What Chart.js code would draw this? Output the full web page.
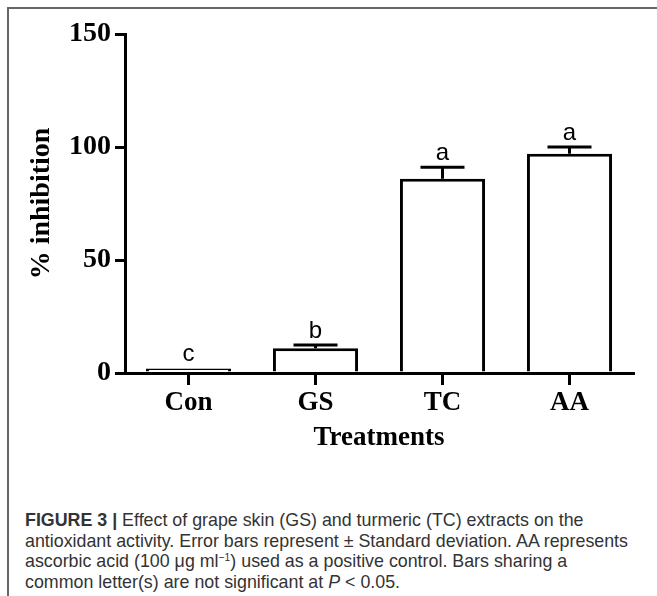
<!DOCTYPE html>
<html>
<head>
<meta charset="utf-8">
<script src="https://cdn.jsdelivr.net/npm/chart.js@4/dist/chart.umd.min.js"></script>
<style>
  html, body { margin: 0; padding: 0; background: #fff; }
  body { width: 657px; height: 596px; position: relative; overflow: hidden; }
  #frame { position: absolute; left: 7px; top: 7px; width: 700px; height: 700px;
           border-left: 2px solid #666; border-top: 2px solid #666; }
  #chart { position: absolute; left: 0; top: 0; }
  #caption { position: absolute; left: 25px; top: 510px; color: #333;
             font-family: "Liberation Sans", Arial, sans-serif;
             font-size: 19px; line-height: 20.5px; white-space: nowrap;
             transform-origin: 0 0; }
  #caption div { display: block; }
  #caption span.ln { display: inline-block; }
  #caption sup { font-size: 11px; line-height: 0; vertical-align: 6px; }
</style>
</head>
<body>
<div id="frame"></div>
<canvas id="chart" width="657" height="470"></canvas>
<div id="caption">
  <div><span class="ln"><b>FIGURE 3 |</b> Effect of grape skin (GS) and turmeric (TC) extracts on the</span></div>
  <div><span class="ln" id="longest">antioxidant activity. Error bars represent ± Standard deviation. AA represents</span></div>
  <div><span class="ln">ascorbic acid (100 μg ml<sup>−1</sup>) used as a positive control. Bars sharing a</span></div>
  <div><span class="ln">common letter(s) are not significant at <i>P</i> &lt; 0.05.</span></div>
</div>
<script>
  // data
  const treatments = ["Con", "GS", "TC", "AA"];
  const inhibition = [2, 11, 86, 97];
  const stdDev = [0, 1.4, 5, 3];
  const letters = ["c", "b", "a", "a"];
  const yTicks = [0, 50, 100, 150];

  const serifBold = { family: "'Liberation Serif', 'Times New Roman', serif", weight: "bold" };

  // caption font is condensed in the original: squeeze the block to the same width
  const cap = document.getElementById("caption");
  const w = document.getElementById("longest").getBoundingClientRect().width;
  cap.style.transform = "scaleX(" + (603 / w) + ")";

  // error bars (upper half only) + significance letters
  const errorBars = {
    id: "errorBars",
    afterDatasetsDraw(chart) {
      const ctx = chart.ctx;
      const y = chart.scales.y;
      const meta = chart.getDatasetMeta(0);
      ctx.save();
      ctx.strokeStyle = "#000";
      ctx.lineWidth = 3;
      meta.data.forEach((bar, i) => {
        const base = y.getPixelForValue(inhibition[i]);
        const top = y.getPixelForValue(inhibition[i] + stdDev[i]);
        if (stdDev[i] > 0) {
          ctx.beginPath();
          ctx.moveTo(bar.x, base);
          ctx.lineTo(bar.x, top);
          ctx.moveTo(bar.x - 22, top);
          ctx.lineTo(bar.x + 22, top);
          ctx.stroke();
        }

        ctx.fillStyle = "#000";
        ctx.font = "24px 'Liberation Sans', Arial, sans-serif";
        ctx.textAlign = "center";
        ctx.textBaseline = "alphabetic";
        ctx.fillText(letters[i], bar.x, top - 7);
      });
      ctx.restore();
    }
  };

  new Chart(document.getElementById("chart"), {
    type: "bar",
    data: {
      labels: treatments,
      datasets: [{
        data: inhibition,
        backgroundColor: "#fff",
        borderColor: "#000",
        borderWidth: 3,
        categoryPercentage: 1,
        barPercentage: 0.67
      }]
    },
    options: {
      responsive: false,
      animation: false,
      layout: { padding: { left: 0, right: 24, top: 34, bottom: 0 } },
      plugins: { legend: { display: false }, tooltip: { enabled: false } },
      scales: {
        x: {
          z: 1,
          grid: { drawOnChartArea: false, offset: false, tickLength: 12, lineWidth: 3, color: "#000" },
          border: { width: 3, color: "#000" },
          ticks: { color: "#000", font: { ...serifBold, size: 27 }, padding: 2 },
          title: { display: true, text: "Treatments", color: "#000",
                   font: { ...serifBold, size: 27 }, padding: { top: 0, bottom: 16 } },
          afterFit(scale) { scale.height = 97; }
        },
        y: {
          z: 1,
          min: 0,
          max: 150,
          afterBuildTicks(scale) { scale.ticks = yTicks.map(v => ({ value: v })); },
          grid: { drawOnChartArea: false, tickLength: 10, lineWidth: 3, color: "#000" },
          border: { width: 3, color: "#000" },
          ticks: { color: "#000", font: { ...serifBold, size: 28 }, padding: 4 },
          title: { display: true, text: "% inhibition", color: "#000",
                   font: { ...serifBold, size: 28 }, padding: { top: 25, bottom: 0 } },
          afterFit(scale) { scale.width = 125; }
        }
      }
    },
    plugins: [errorBars]
  });
</script>
</body>
</html>
